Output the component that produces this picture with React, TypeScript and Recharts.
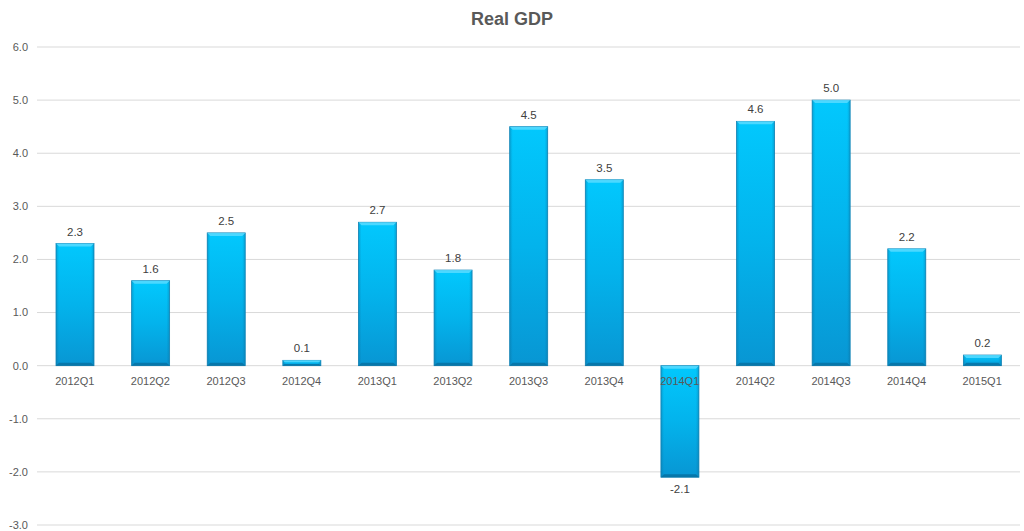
import { BarChart, Bar, XAxis, YAxis, CartesianGrid, LabelList } from "recharts";

const quarters = [
  "2012Q1", "2012Q2", "2012Q3", "2012Q4",
  "2013Q1", "2013Q2", "2013Q3", "2013Q4",
  "2014Q1", "2014Q2", "2014Q3", "2014Q4", "2015Q1",
];
const growth = [2.3, 1.6, 2.5, 0.1, 2.7, 1.8, 4.5, 3.5, -2.1, 4.6, 5.0, 2.2, 0.2];
const yTicks = [-3, -2, -1, 0, 1, 2, 3, 4, 5, 6];

const data = quarters.map((q, i) => ({ name: q, value: growth[i] }));

const W = 1024;
const H = 531;
const M = { top: 47, right: 4, bottom: 0, left: 0 };
const X_AXIS_H = 6;
const FONT = "'Liberation Sans', Arial, sans-serif";
const TEXT = "#595959";

// zero line sits 6/9 of the way down the plot
const plotH = H - M.top - M.bottom - X_AXIS_H;
const zeroY = M.top + (plotH * 6) / 9;

function QuarterTick(props: any) {
  const { x, payload } = props;
  return (
    <text x={x} y={zeroY + 19} textAnchor="middle" fontSize={11} fill={TEXT} fontFamily={FONT}>
      {payload.value}
    </text>
  );
}

function BevelBar(props: any) {
  const { x, y, width, height } = props;
  const top = height < 0 ? y + height : y;
  const h = Math.abs(height);
  if (!h || !width) return null;
  const b = Math.min(3, h / 3);
  return (
    <g>
      <rect x={x} y={top} width={width} height={h} fill="url(#barFill)" stroke="#1786b8" strokeWidth={0.8} />
      <rect x={x} y={top} width={width} height={h} fill="url(#barSides)" />
      <polygon
        points={`${x},${top} ${x + width},${top} ${x + width - b},${top + b} ${x + b},${top + b}`}
        fill="#5fdcff"
        opacity={0.8}
      />
      <polygon
        points={`${x},${top + h} ${x + width},${top + h} ${x + width - b},${top + h - b} ${x + b},${top + h - b}`}
        fill="#076a98"
        opacity={0.7}
      />
    </g>
  );
}

export default function App() {
  return (
    <div style={{ position: "absolute", left: 0, top: 0, width: W, height: H, background: "#fff" }}>
      <div
        style={{
          position: "absolute",
          top: 9,
          left: 0,
          width: W,
          textAlign: "center",
          fontFamily: FONT,
          fontWeight: 700,
          fontSize: 18,
          color: TEXT,
        }}
      >
        Real GDP
      </div>
      <BarChart width={W} height={H} data={data} margin={M} barSize={38}>
        <defs>
          <linearGradient id="barFill" x1="0" y1="0" x2="0" y2="1">
            <stop offset="0%" stopColor="#02c8fd" />
            <stop offset="50%" stopColor="#03b3ec" />
            <stop offset="100%" stopColor="#0896d3" />
          </linearGradient>
          <linearGradient id="barSides" x1="0" y1="0" x2="1" y2="0">
            <stop offset="0%" stopColor="#0a6f9c" stopOpacity={0.4} />
            <stop offset="8%" stopColor="#0a6f9c" stopOpacity={0} />
            <stop offset="92%" stopColor="#0a6f9c" stopOpacity={0} />
            <stop offset="100%" stopColor="#0a6f9c" stopOpacity={0.4} />
          </linearGradient>
        </defs>
        <CartesianGrid vertical={false} stroke="#d9d9d9" />
        <XAxis
          dataKey="name"
          axisLine={false}
          tickLine={false}
          height={X_AXIS_H}
          tick={QuarterTick}
          interval={0}
        />
        <YAxis
          domain={[-3, 6]}
          ticks={yTicks}
          width={37}
          axisLine={false}
          tickLine={false}
          tickSize={0}
          tickMargin={9}
          tickFormatter={(v: number) => v.toFixed(1)}
          tick={{ fontSize: 11, fill: TEXT, fontFamily: FONT }}
        />
        <Bar dataKey="value" shape={BevelBar} isAnimationActive={false}>
          <LabelList
            dataKey="value"
            position="top"
            offset={8}
            formatter={(v: any) => Number(v).toFixed(1)}
            style={{ fontSize: 11.5, fill: "#404040", fontFamily: FONT }}
          />
        </Bar>
      </BarChart>
    </div>
  );
}
